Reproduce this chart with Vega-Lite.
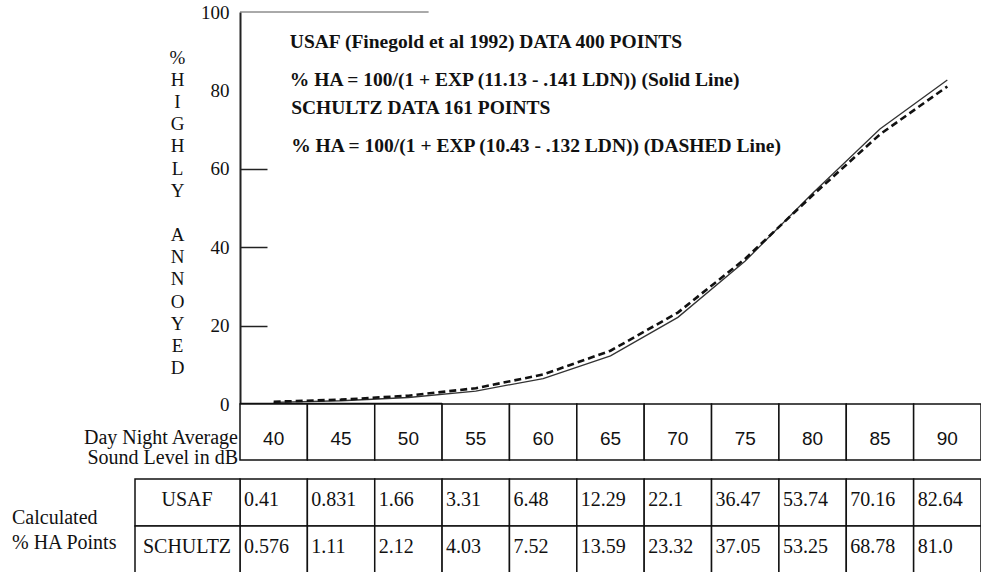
{
  "$schema": "https://vega.github.io/schema/vega-lite/v6.json",
  "width": 741,
  "height": 560,
  "autosize": {"type": "none"},
  "padding": {"left": 240, "top": 12, "right": 0, "bottom": 0},
  "background": "white",
  "config": {"view": {"stroke": null}},
  "data": {
    "values": [
      {"ldn": 40, "series": "USAF", "value": 0.41, "shown": "0.41"},
      {"ldn": 45, "series": "USAF", "value": 0.831, "shown": "0.831"},
      {"ldn": 50, "series": "USAF", "value": 1.66, "shown": "1.66"},
      {"ldn": 55, "series": "USAF", "value": 3.31, "shown": "3.31"},
      {"ldn": 60, "series": "USAF", "value": 6.48, "shown": "6.48"},
      {"ldn": 65, "series": "USAF", "value": 12.29, "shown": "12.29"},
      {"ldn": 70, "series": "USAF", "value": 22.1, "shown": "22.1"},
      {"ldn": 75, "series": "USAF", "value": 36.47, "shown": "36.47"},
      {"ldn": 80, "series": "USAF", "value": 53.74, "shown": "53.74"},
      {"ldn": 85, "series": "USAF", "value": 70.16, "shown": "70.16"},
      {"ldn": 90, "series": "USAF", "value": 82.64, "shown": "82.64"},
      {"ldn": 40, "series": "SCHULTZ", "value": 0.576, "shown": "0.576"},
      {"ldn": 45, "series": "SCHULTZ", "value": 1.11, "shown": "1.11"},
      {"ldn": 50, "series": "SCHULTZ", "value": 2.12, "shown": "2.12"},
      {"ldn": 55, "series": "SCHULTZ", "value": 4.03, "shown": "4.03"},
      {"ldn": 60, "series": "SCHULTZ", "value": 7.52, "shown": "7.52"},
      {"ldn": 65, "series": "SCHULTZ", "value": 13.59, "shown": "13.59"},
      {"ldn": 70, "series": "SCHULTZ", "value": 23.32, "shown": "23.32"},
      {"ldn": 75, "series": "SCHULTZ", "value": 37.05, "shown": "37.05"},
      {"ldn": 80, "series": "SCHULTZ", "value": 53.25, "shown": "53.25"},
      {"ldn": 85, "series": "SCHULTZ", "value": 68.78, "shown": "68.78"},
      {"ldn": 90, "series": "SCHULTZ", "value": 81.0, "shown": "81.0"}
    ]
  },
  "encoding": {
    "x": {"field": "ldn", "type": "ordinal", "scale": {"paddingInner": 0, "paddingOuter": 0}, "axis": null}
  },
  "layer": [
    {
      "layer": [
        {
          "transform": [{"filter": "datum.series == 'USAF'"}],
          "mark": {"type": "line", "color": "#333", "strokeWidth": 1.3},
          "encoding": {
            "y": {
              "field": "value", "type": "quantitative",
              "scale": {"domain": [0, 100], "range": [392, 0], "nice": false, "zero": false},
              "axis": {
                "values": [0, 20, 40, 60, 80, 100],
                "domain": true, "domainColor": "#222", "domainWidth": 2,
                "ticks": true, "tickSize": -27, "tickWidth": 1.5, "tickColor": "#222",
                "tickOpacity": {"condition": {"test": "datum.value == 20 || datum.value == 40 || datum.value == 60", "value": 1}, "value": 0},
                "labelPadding": 38,
                "labelFont": "Liberation Serif", "labelFontSize": 19, "labelColor": "#111",
                "grid": false,
                "title": ["%", "H", "I", "G", "H", "L", "Y", "\u200b", "A", "N", "N", "O", "Y", "E", "D"],
                "titleFont": "Liberation Serif", "titleFontSize": 19, "titleFontWeight": "normal",
                "titleColor": "#111", "titleAngle": 0, "titleAlign": "center", "titleBaseline": "top",
                "titleX": -63, "titleY": 36, "titleLineHeight": 22.2
              }
            }
          }
        },
        {
          "transform": [{"filter": "datum.series == 'SCHULTZ'"}],
          "mark": {"type": "line", "color": "#111", "strokeWidth": 2.6, "strokeDash": [7, 4]},
          "encoding": {"y": {"field": "value", "type": "quantitative"}}
        },
        {
          "transform": [{"filter": "datum.series == 'USAF' && datum.ldn == 40"}],
          "mark": {"type": "rule", "color": "#555", "strokeWidth": 1},
          "encoding": {
            "x": {"datum": 40, "type": "ordinal", "bandPosition": 0},
            "x2": {"datum": 50, "bandPosition": 0.8},
            "y": {"datum": 100, "type": "quantitative"}
          }
        },
        {
          "transform": [{"filter": "datum.series == 'USAF' && datum.ldn == 40"}],
          "mark": {"type": "rule", "color": "#111", "strokeWidth": 2.5},
          "encoding": {
            "x": {"datum": 40, "type": "ordinal", "bandPosition": 0},
            "x2": {"datum": 55, "bandPosition": 0},
            "y": {"datum": 0, "type": "quantitative"}
          }
        },
        {
          "transform": [{"filter": "datum.series == 'USAF' && datum.ldn == 40"}],
          "mark": {"type": "text", "font": "Liberation Serif", "fontWeight": "bold", "fontSize": 19.5, "align": "left", "baseline": "middle", "lineHeight": 37.5, "color": "#111"},
          "encoding": {
            "x": {"datum": 40, "type": "ordinal", "bandPosition": 0.74},
            "y": {"datum": 92.3, "type": "quantitative"},
            "text": {"value": ["USAF (Finegold et al 1992) DATA 400 POINTS", "% HA = 100/(1 + EXP (11.13 - .141 LDN)) (Solid Line)"]}
          }
        },
        {
          "transform": [{"filter": "datum.series == 'USAF' && datum.ldn == 40"}],
          "mark": {"type": "text", "font": "Liberation Serif", "fontWeight": "bold", "fontSize": 19.5, "align": "left", "baseline": "middle", "lineHeight": 37.5, "color": "#111"},
          "encoding": {
            "x": {"datum": 40, "type": "ordinal", "bandPosition": 0.76},
            "y": {"datum": 75.5, "type": "quantitative"},
            "text": {"value": ["SCHULTZ DATA 161 POINTS", "% HA = 100/(1 + EXP (10.43 - .132 LDN)) (DASHED Line)"]}
          }
        }
      ]
    },
    {
      "transform": [{"filter": "datum.series == 'USAF'"}],
      "encoding": {
        "y": {"datum": "hdr", "type": "nominal", "scale": {"domain": ["hdr"], "range": [392, 448], "paddingInner": 0, "paddingOuter": 0}, "axis": null}
      },
      "layer": [
        {
          "mark": {"type": "rect", "fill": "white", "stroke": "#111", "strokeWidth": 1.5}
        },
        {
          "mark": {"type": "text", "font": "Liberation Sans", "fontSize": 19, "baseline": "middle", "dy": 7, "color": "#111"},
          "encoding": {"text": {"field": "ldn", "type": "ordinal"}}
        },
        {
          "transform": [{"filter": "datum.ldn == 40"}],
          "mark": {"type": "text", "font": "Liberation Serif", "fontSize": 20, "align": "right", "baseline": "middle", "dx": -2, "dy": 6, "lineHeight": 20, "color": "#111"},
          "encoding": {
            "x": {"datum": 40, "type": "ordinal", "bandPosition": 0},
            "text": {"value": ["Day Night Average", "Sound Level in dB"]}
          }
        }
      ]
    },
    {
      "encoding": {
        "y": {"field": "series", "type": "nominal", "scale": {"domain": ["USAF", "SCHULTZ"], "range": [467, 561], "paddingInner": 0, "paddingOuter": 0}, "axis": null}
      },
      "layer": [
        {
          "mark": {"type": "rect", "fill": "white", "stroke": "#111", "strokeWidth": 1.5}
        },
        {
          "transform": [{"filter": "datum.ldn == 40"}],
          "mark": {"type": "rect", "fill": "white", "stroke": "#111", "strokeWidth": 1.5, "x2Offset": -105},
          "encoding": {
            "x": {"datum": 40, "type": "ordinal", "bandPosition": 0},
            "x2": {"datum": 40, "bandPosition": 0}
          }
        },
        {
          "transform": [{"filter": "datum.ldn == 40"}],
          "mark": {"type": "text", "font": "Liberation Serif", "fontSize": 20, "align": "center", "baseline": "middle", "dx": -53, "color": "#111"},
          "encoding": {
            "x": {"datum": 40, "type": "ordinal", "bandPosition": 0},
            "y": {"field": "series", "type": "nominal", "bandPosition": 0.45},
            "text": {"field": "series", "type": "nominal"}
          }
        },
        {
          "mark": {"type": "text", "font": "Liberation Serif", "fontSize": 20, "align": "left", "baseline": "middle", "dx": 4, "color": "#111"},
          "encoding": {
            "x": {"field": "ldn", "type": "ordinal", "bandPosition": 0},
            "y": {"field": "series", "type": "nominal", "bandPosition": 0.45},
            "text": {"field": "shown", "type": "nominal"}
          }
        },
        {
          "transform": [{"filter": "datum.ldn == 40 && datum.series == 'USAF'"}],
          "mark": {"type": "text", "font": "Liberation Serif", "fontSize": 20, "align": "left", "baseline": "middle", "dx": -228, "dy": -8, "lineHeight": 25, "color": "#111"},
          "encoding": {
            "x": {"datum": 40, "type": "ordinal", "bandPosition": 0},
            "y": {"datum": "SCHULTZ", "type": "nominal", "bandPosition": 0},
            "text": {"value": ["Calculated", "% HA Points"]}
          }
        }
      ]
    }
  ],
  "resolve": {"scale": {"y": "independent"}}
}
